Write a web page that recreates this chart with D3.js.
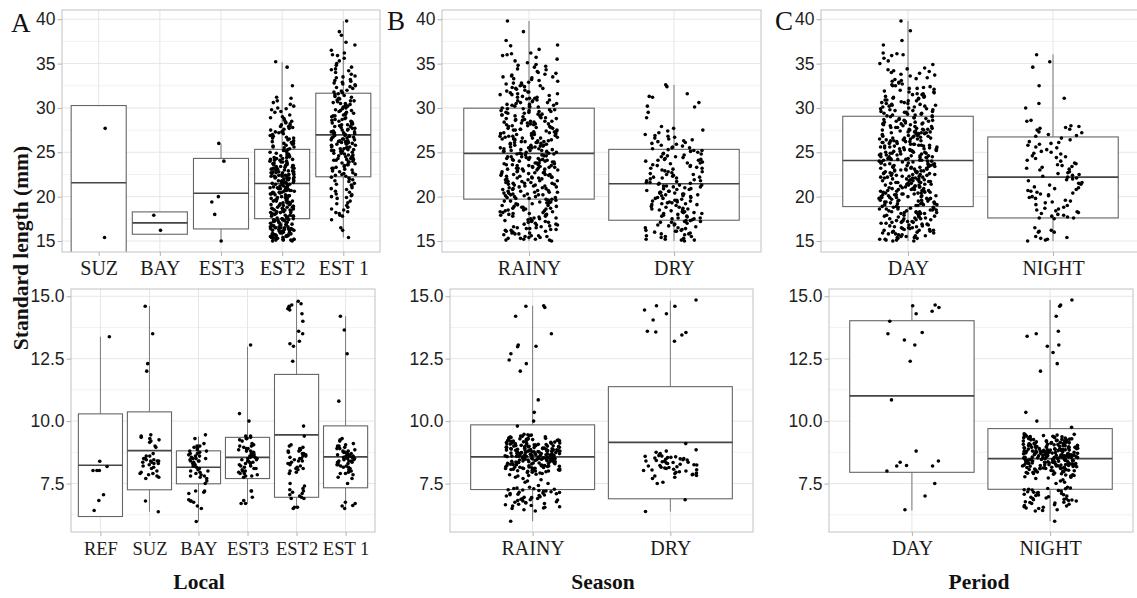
<!DOCTYPE html>
<html>
<head>
<meta charset="utf-8">
<script src="https://cdn.jsdelivr.net/npm/d3@7"></script>
<style>
  body { margin: 0; background: #fff; }
  svg { display: block; }
</style>
</head>
<body>
<svg id="chart" width="1137" height="598"></svg>
<script>
// ---------- categories ----------
const topLocalCategories = ["SUZ", "BAY", "EST3", "EST2", "EST 1"];
const lowLocalCategories = ["REF", "SUZ", "BAY", "EST3", "EST2", "EST 1"];
const seasonCategories = ["RAINY", "DRY"];
const periodCategories = ["DAY", "NIGHT"];

// ---------- tick values ----------
const topTicks = [15, 20, 25, 30, 35, 40];
const lowTicks = [7.5, 10, 12.5, 15];

// ---------- box statistics (standard length, mm) ----------
const topLocalLower  = [12.85, 15.76, 15.0, 15.0, 15.4];
const topLocalQ1     = [12.85, 15.76, 16.36, 17.52, 22.24];
const topLocalMedian = [21.56, 17.04, 20.39, 21.48, 26.96];
const topLocalQ3     = [30.27, 18.28, 24.31, 25.33, 31.66];
const topLocalUpper  = [30.27, 18.28, 25.97, 35.17, 39.8];

const topSeasonLower  = [15.0, 15.0];
const topSeasonQ1     = [19.72, 17.34];
const topSeasonMedian = [24.88, 21.45];
const topSeasonQ3     = [29.97, 25.33];
const topSeasonUpper  = [39.8, 32.6];

const topPeriodLower  = [15.0, 15.0];
const topPeriodQ1     = [18.88, 17.6];
const topPeriodMedian = [24.08, 22.2];
const topPeriodQ3     = [29.06, 26.73];
const topPeriodUpper  = [39.8, 36.04];

const lowLocalLower  = [6.18, 6.37, 5.98, 6.69, 6.5, 6.5];
const lowLocalQ1     = [6.18, 7.25, 7.49, 7.7, 6.95, 7.33];
const lowLocalMedian = [8.23, 8.82, 8.15, 8.55, 9.45, 8.57];
const lowLocalQ3     = [10.29, 10.37, 8.81, 9.35, 11.87, 9.81];
const lowLocalUpper  = [13.38, 14.61, 9.39, 12.98, 14.78, 14.2];

const lowSeasonLower  = [5.99, 6.38];
const lowSeasonQ1     = [7.26, 6.89];
const lowSeasonMedian = [8.57, 9.15];
const lowSeasonQ3     = [9.85, 11.38];
const lowSeasonUpper  = [14.62, 14.82];

const lowPeriodLower  = [6.42, 5.99];
const lowPeriodQ1     = [7.95, 7.27];
const lowPeriodMedian = [11.01, 8.5];
const lowPeriodQ3     = [14.02, 9.7];
const lowPeriodUpper  = [14.62, 14.85];

// ---------- individual fish, larger than 15 mm ----------
const topSUZ = [27.7, 15.4];
const topBAY = [17.9, 16.2];
const topEST3 = [26.0, 24.0, 19.4, 20.0, 18.0, 15.0];
const topEST2 = [
15.0,15.0,15.1,15.1,15.2,15.2,15.2,15.3,15.3,15.4,15.4,15.4,15.5,15.5,15.6,15.6,15.6,15.7,15.7,15.8,15.8,15.8,15.9,15.9,15.1,15.3,15.5,15.7,
16.0,16.0,16.1,16.1,16.2,16.2,16.3,16.3,16.3,16.4,16.4,16.5,16.5,16.5,16.6,16.6,16.7,16.7,16.8,16.8,16.9,16.9,16.0,16.2,16.4,16.6,16.8,16.5,
17.0,17.1,17.1,17.2,17.3,17.3,17.4,17.4,17.5,17.5,17.6,17.6,17.7,17.7,17.8,17.8,17.9,17.9,17.0,17.2,17.5,17.6,17.3,17.8,17.1,17.4,
18.0,18.1,18.2,18.2,18.3,18.4,18.4,18.5,18.5,18.6,18.7,18.7,18.8,18.8,18.9,18.9,18.0,18.3,18.6,18.1,18.5,18.8,18.2,18.6,
19.0,19.1,19.2,19.3,19.3,19.4,19.5,19.5,19.6,19.7,19.7,19.8,19.9,19.9,19.0,19.2,19.4,19.6,19.8,19.1,19.5,19.3,
20.0,20.1,20.1,20.2,20.3,20.4,20.4,20.5,20.5,20.6,20.7,20.7,20.8,20.9,20.9,20.0,20.2,20.3,20.6,20.8,20.5,20.1,20.4,20.7,
21.0,21.0,21.1,21.2,21.2,21.3,21.4,21.4,21.5,21.5,21.6,21.6,21.7,21.8,21.8,21.9,21.9,21.1,21.3,21.5,21.7,21.0,21.2,21.6,21.4,21.8,
22.0,22.1,22.1,22.2,22.3,22.3,22.4,22.4,22.5,22.5,22.6,22.7,22.7,22.8,22.8,22.9,22.9,22.0,22.2,22.6,22.3,22.5,22.1,22.4,22.7,22.8,
23.0,23.1,23.2,23.3,23.3,23.4,23.5,23.5,23.6,23.7,23.7,23.8,23.9,23.9,23.0,23.2,23.4,23.6,23.1,23.5,23.3,23.8,
24.0,24.1,24.2,24.3,24.4,24.5,24.5,24.6,24.7,24.8,24.9,24.0,24.3,24.6,24.2,24.8,24.4,24.1,
25.0,25.2,25.3,25.5,25.6,25.8,25.9,25.1,25.4,25.7,25.2,25.6,
26.0,26.1,26.3,26.4,26.6,26.7,26.9,26.2,26.5,26.8,26.0,26.6,
27.0,27.2,27.3,27.5,27.6,27.8,27.9,27.1,27.4,27.7,27.3,27.9,
28.0,28.2,28.4,28.6,28.8,28.1,28.5,28.9,28.3,
29.0,29.2,29.5,29.6,29.8,29.9,
30.0,30.2,30.4,30.6,30.8,31.1,31.2,32.5,34.6,35.2
];
const topEST1 = [
15.4,16.2,16.5,17.4,17.8,17.9,
18.1,18.2,18.3,18.5,18.6,18.8,
19.0,19.2,19.3,19.5,19.8,19.9,
20.0,20.1,20.2,20.3,20.5,20.6,20.8,20.9,
21.0,21.2,21.3,21.4,21.5,21.7,21.8,21.9,
22.0,22.1,22.2,22.3,22.4,22.5,22.5,22.6,22.7,22.8,22.9,
23.0,23.1,23.2,23.2,23.3,23.4,23.5,23.6,23.6,23.7,23.8,23.9,23.9,
24.0,24.1,24.1,24.2,24.2,24.3,24.3,24.4,24.5,24.5,24.6,24.7,24.7,24.8,24.9,24.9,
25.0,25.1,25.1,25.2,25.2,25.3,25.3,25.4,25.4,25.5,25.5,25.6,25.6,25.7,25.8,25.8,25.9,25.9,
26.0,26.0,26.1,26.1,26.2,26.2,26.3,26.3,26.4,26.4,26.5,26.5,26.6,26.6,26.7,26.7,26.8,26.8,26.9,26.9,
27.0,27.1,27.1,27.2,27.2,27.3,27.3,27.4,27.5,27.5,27.6,27.7,27.7,27.8,27.9,27.9,
28.0,28.1,28.1,28.2,28.2,28.3,28.4,28.5,28.5,28.6,28.7,28.7,28.8,28.9,
29.0,29.1,29.1,29.2,29.3,29.3,29.4,29.5,29.6,29.7,29.7,29.8,29.9,
30.0,30.1,30.2,30.2,30.3,30.4,30.5,30.5,30.6,30.7,30.8,30.8,30.9,
31.0,31.1,31.2,31.3,31.4,31.5,31.6,31.7,31.8,31.9,
32.0,32.2,32.3,32.4,32.5,32.6,32.7,32.8,32.9,
33.0,33.1,33.2,33.4,33.5,33.6,33.8,
34.0,34.2,34.3,34.4,34.6,34.8,
35.0,35.3,35.6,35.9,36.0,36.2,36.5,37.1,37.4,38.2,38.6,39.8
];
const topRAINY = [
15.0,15.1,15.2,15.3,15.4,15.5,15.6,15.7,15.8,15.9,15.5,15.2,15.8,15.1,15.6,15.3,15.9,15.4,
16.0,16.1,16.2,16.3,16.4,16.5,16.6,16.7,16.8,16.9,16.5,16.2,16.8,16.1,16.6,16.3,16.9,16.4,
17.0,17.1,17.2,17.3,17.4,17.5,17.6,17.7,17.8,17.9,17.5,17.2,17.8,17.1,17.6,17.3,17.9,
18.0,18.1,18.2,18.3,18.4,18.5,18.6,18.7,18.8,18.9,18.0,18.1,18.2,18.3,18.4,18.5,18.6,18.7,18.8,18.9,
19.0,19.1,19.2,19.3,19.4,19.5,19.6,19.7,19.8,19.9,19.0,19.1,19.2,19.3,19.4,19.5,19.6,19.7,19.8,19.9,
20.0,20.1,20.2,20.3,20.4,20.5,20.6,20.7,20.8,20.9,20.0,20.1,20.2,20.3,20.4,20.5,20.6,20.7,20.8,20.9,20.5,20.2,
21.0,21.1,21.2,21.3,21.4,21.5,21.6,21.7,21.8,21.9,21.0,21.1,21.2,21.3,21.4,21.5,21.6,21.7,21.8,21.9,21.5,21.2,
22.0,22.1,22.2,22.3,22.4,22.5,22.6,22.7,22.8,22.9,22.0,22.1,22.2,22.3,22.4,22.5,22.6,22.7,22.8,22.9,22.5,22.2,22.8,22.1,
23.0,23.1,23.2,23.3,23.4,23.5,23.6,23.7,23.8,23.9,23.0,23.1,23.2,23.3,23.4,23.5,23.6,23.7,23.8,23.9,23.5,23.2,23.8,23.1,23.6,23.3,
24.0,24.1,24.2,24.3,24.4,24.5,24.6,24.7,24.8,24.9,24.0,24.1,24.2,24.3,24.4,24.5,24.6,24.7,24.8,24.9,24.5,24.2,24.8,24.1,
25.0,25.1,25.2,25.3,25.4,25.5,25.6,25.7,25.8,25.9,25.0,25.1,25.2,25.3,25.4,25.5,25.6,25.7,25.8,25.9,25.5,25.2,25.8,25.1,25.6,
26.0,26.1,26.2,26.3,26.4,26.5,26.6,26.7,26.8,26.9,26.0,26.1,26.2,26.3,26.4,26.5,26.6,26.7,26.8,26.9,26.5,26.2,26.8,26.1,26.6,
27.0,27.1,27.2,27.3,27.4,27.5,27.6,27.7,27.8,27.9,27.0,27.1,27.2,27.3,27.4,27.5,27.6,27.7,27.8,27.9,27.5,27.2,27.8,27.1,
28.0,28.1,28.2,28.3,28.4,28.5,28.6,28.7,28.8,28.9,28.0,28.1,28.2,28.3,28.4,28.5,28.6,28.7,28.8,28.9,28.5,28.2,
29.0,29.1,29.2,29.3,29.4,29.5,29.6,29.7,29.8,29.9,29.0,29.1,29.2,29.3,29.4,29.5,29.6,29.7,29.8,29.9,
30.0,30.1,30.2,30.3,30.4,30.5,30.6,30.7,30.8,30.9,30.5,30.2,30.8,30.1,30.6,30.3,30.9,30.4,
31.0,31.1,31.2,31.3,31.4,31.5,31.6,31.7,31.8,31.9,31.5,31.2,31.8,31.1,31.6,
32.0,32.1,32.2,32.3,32.4,32.5,32.6,32.7,32.8,32.9,32.5,32.2,32.8,
33.0,33.1,33.2,33.3,33.4,33.5,33.6,33.7,33.8,33.9,33.5,
34.0,34.1,34.3,34.4,34.6,34.7,34.8,34.9,
35.1,35.3,35.5,35.7,35.9,36.0,36.1,36.2,36.6,37.0,37.1,37.6,38.6,39.8
];
const topDRY = [
15.0,15.1,15.2,15.3,15.4,15.5,15.6,15.7,15.8,15.9,15.5,15.2,15.8,15.1,
16.0,16.1,16.2,16.3,16.4,16.5,16.6,16.7,16.8,16.9,16.5,16.2,16.8,16.1,
17.0,17.1,17.2,17.3,17.4,17.5,17.6,17.7,17.8,17.9,17.5,17.2,17.8,17.1,17.6,17.3,
18.0,18.1,18.2,18.3,18.4,18.5,18.6,18.7,18.8,18.9,18.5,18.2,18.8,18.1,18.6,18.3,
19.0,19.1,19.2,19.3,19.4,19.5,19.6,19.7,19.8,19.9,19.5,19.2,19.8,19.1,19.6,19.3,19.9,19.4,
20.0,20.1,20.2,20.3,20.4,20.5,20.6,20.7,20.8,20.9,20.5,20.2,20.8,20.1,20.6,20.3,20.9,20.4,
21.0,21.1,21.2,21.3,21.4,21.5,21.6,21.7,21.8,21.9,21.5,21.2,21.8,21.1,21.6,21.3,
22.0,22.1,22.2,22.3,22.4,22.5,22.6,22.7,22.8,22.9,22.5,22.2,22.8,22.1,
23.0,23.1,23.2,23.3,23.4,23.5,23.6,23.7,23.8,23.9,23.5,23.2,23.8,
24.0,24.1,24.2,24.3,24.4,24.5,24.6,24.7,24.8,24.9,24.5,24.2,24.8,24.1,
25.0,25.1,25.2,25.3,25.4,25.5,25.6,25.7,25.8,25.9,25.5,25.2,
26.0,26.1,26.2,26.3,26.4,26.5,26.6,26.7,26.8,26.9,
27.0,27.2,27.4,27.5,27.7,27.9,
28.9,29.5,30.1,30.2,30.6,31.2,31.3,31.6,32.4,32.6
];
const topDAY = [
15.0,15.1,15.2,15.3,15.4,15.5,15.6,15.7,15.8,15.9,15.0,15.1,15.2,15.3,15.4,15.5,15.6,15.7,15.8,15.9,
16.0,16.1,16.2,16.3,16.4,16.5,16.6,16.7,16.8,16.9,16.0,16.1,16.2,16.3,16.4,16.5,16.6,16.7,16.8,16.9,16.5,16.2,
17.0,17.1,17.2,17.3,17.4,17.5,17.6,17.7,17.8,17.9,17.0,17.1,17.2,17.3,17.4,17.5,17.6,17.7,17.8,17.9,17.5,17.2,17.8,17.1,
18.0,18.1,18.2,18.3,18.4,18.5,18.6,18.7,18.8,18.9,18.0,18.1,18.2,18.3,18.4,18.5,18.6,18.7,18.8,18.9,18.5,18.2,18.8,18.1,18.6,18.3,
19.0,19.1,19.2,19.3,19.4,19.5,19.6,19.7,19.8,19.9,19.0,19.1,19.2,19.3,19.4,19.5,19.6,19.7,19.8,19.9,19.5,19.2,19.8,19.1,19.6,19.3,19.9,19.4,
20.0,20.1,20.2,20.3,20.4,20.5,20.6,20.7,20.8,20.9,20.0,20.1,20.2,20.3,20.4,20.5,20.6,20.7,20.8,20.9,20.0,20.1,20.2,20.3,20.4,20.5,20.6,20.7,20.8,20.9,
21.0,21.1,21.2,21.3,21.4,21.5,21.6,21.7,21.8,21.9,21.0,21.1,21.2,21.3,21.4,21.5,21.6,21.7,21.8,21.9,21.0,21.1,21.2,21.3,21.4,21.5,21.6,21.7,21.8,21.9,
22.0,22.1,22.2,22.3,22.4,22.5,22.6,22.7,22.8,22.9,22.0,22.1,22.2,22.3,22.4,22.5,22.6,22.7,22.8,22.9,22.0,22.1,22.2,22.3,22.4,22.5,22.6,22.7,22.8,22.9,
23.0,23.1,23.2,23.3,23.4,23.5,23.6,23.7,23.8,23.9,23.0,23.1,23.2,23.3,23.4,23.5,23.6,23.7,23.8,23.9,23.0,23.1,23.2,23.3,23.4,23.5,23.6,23.7,23.8,23.9,
24.0,24.1,24.2,24.3,24.4,24.5,24.6,24.7,24.8,24.9,24.0,24.1,24.2,24.3,24.4,24.5,24.6,24.7,24.8,24.9,24.0,24.1,24.2,24.3,24.4,24.5,24.6,24.7,24.8,24.9,
25.0,25.1,25.2,25.3,25.4,25.5,25.6,25.7,25.8,25.9,25.0,25.1,25.2,25.3,25.4,25.5,25.6,25.7,25.8,25.9,25.0,25.1,25.2,25.3,25.4,25.5,25.6,25.7,25.8,25.9,
26.0,26.1,26.2,26.3,26.4,26.5,26.6,26.7,26.8,26.9,26.0,26.1,26.2,26.3,26.4,26.5,26.6,26.7,26.8,26.9,26.5,26.2,26.8,26.1,26.6,26.3,26.9,26.4,
27.0,27.1,27.2,27.3,27.4,27.5,27.6,27.7,27.8,27.9,27.0,27.1,27.2,27.3,27.4,27.5,27.6,27.7,27.8,27.9,27.5,27.2,27.8,27.1,27.6,27.3,
28.0,28.1,28.2,28.3,28.4,28.5,28.6,28.7,28.8,28.9,28.0,28.1,28.2,28.3,28.4,28.5,28.6,28.7,28.8,28.9,28.5,28.2,
29.0,29.1,29.2,29.3,29.4,29.5,29.6,29.7,29.8,29.9,29.0,29.1,29.2,29.3,29.4,29.5,29.6,29.7,29.8,29.9,
30.0,30.1,30.2,30.3,30.4,30.5,30.6,30.7,30.8,30.9,30.5,30.2,30.8,30.1,30.6,30.3,30.9,30.4,
31.0,31.1,31.2,31.3,31.4,31.5,31.6,31.7,31.8,31.9,31.5,31.2,31.8,31.1,31.6,31.3,
32.0,32.1,32.2,32.3,32.4,32.5,32.6,32.7,32.8,32.9,32.5,32.2,
33.0,33.1,33.2,33.3,33.4,33.6,33.7,33.8,33.9,
34.0,34.1,34.2,34.3,34.4,34.5,34.9,
35.0,35.3,35.6,35.9,36.0,36.1,36.2,37.1,37.6,38.7,39.8
];
const topNIGHT = [
15.0,15.1,15.2,15.3,15.4,15.5,
16.0,16.1,16.2,16.5,16.0,
17.5,17.6,17.7,17.8,17.9,17.6,
18.0,18.1,18.2,18.3,18.4,18.5,18.6,18.7,18.8,
19.0,19.1,19.3,19.4,19.5,19.6,19.8,19.9,
20.0,20.1,20.2,20.3,20.4,20.5,20.6,20.7,20.8,20.9,
21.0,21.1,21.3,21.4,21.5,21.6,21.8,21.9,
22.0,22.1,22.2,22.3,22.4,22.5,22.6,22.7,22.8,
23.0,23.1,23.2,23.3,23.4,23.5,23.6,23.7,23.8,
24.0,24.1,24.3,24.4,24.5,24.6,24.8,24.9,
25.0,25.1,25.3,25.5,25.6,25.8,25.9,
26.0,26.1,26.2,26.4,26.6,26.8,26.9,
27.0,27.2,27.3,27.5,27.6,27.7,27.8,27.9,
28.0,28.5,28.6,30.0,30.5,31.1,32.5,34.6,35.2,36.0
];

// ---------- individual fish, smaller than 15 mm ----------
const lowREF = [13.38, 8.39, 8.18, 8.02, 8.02, 8.02, 7.05, 6.82, 6.42];
const lowSUZ = [14.6,13.5,12.3,12.0,9.45,9.4,9.35,9.3,9.25,9.2,9.15,9.0,8.95,8.7,8.6,8.5,8.45,8.4,8.4,8.35,8.3,8.3,8.25,8.2,8.15,8.1,8.0,7.95,7.9,7.9,7.85,7.8,7.75,7.7,8.5,8.4,8.6,8.35,8.45,6.8,6.37];
const lowBAY = [9.45,9.3,9.1,9.0,9.0,8.95,8.9,8.85,8.8,8.8,8.75,8.7,8.7,8.65,8.6,8.6,8.55,8.5,8.5,8.5,8.45,8.4,8.4,8.4,8.35,8.3,8.3,8.25,8.2,8.2,8.15,8.1,8.05,8.0,8.0,7.95,7.9,7.85,7.8,7.8,7.75,7.7,7.6,7.5,7.2,7.2,7.15,7.1,6.85,6.8,6.8,6.75,6.6,6.5,5.98];
const lowEST3 = [13.05,10.3,10.0,9.4,9.4,9.35,9.3,9.3,9.25,9.2,9.1,9.05,9.0,9.0,8.95,8.9,8.9,8.85,8.8,8.8,8.75,8.7,8.7,8.65,8.65,8.6,8.6,8.55,8.55,8.5,8.5,8.45,8.45,8.4,8.4,8.35,8.35,8.3,8.3,8.25,8.2,8.2,8.15,8.1,8.1,8.05,8.0,8.0,7.95,7.9,7.9,7.85,7.8,7.8,7.75,7.2,7.2,6.95,6.82,6.7,6.7];
const lowEST2 = [14.8,14.7,14.65,14.6,14.55,14.5,14.45,14.3,14.0,13.6,13.5,13.2,13.1,13.0,12.4,9.8,9.4,9.05,9.0,8.95,8.9,8.85,8.8,8.8,8.75,8.7,8.7,8.65,8.6,8.6,8.55,8.5,8.5,8.45,8.4,8.4,8.35,8.3,8.3,8.25,8.2,8.15,8.1,8.1,8.05,8.0,7.95,7.9,7.5,7.4,7.3,7.25,7.2,7.15,7.1,7.05,7.0,6.95,6.9,6.9,6.55,6.55,6.5];
const lowEST1 = [14.2,13.65,12.7,10.8,9.3,9.25,9.2,9.1,9.05,9.0,9.0,8.95,8.9,8.9,8.85,8.8,8.8,8.75,8.75,8.7,8.7,8.65,8.65,8.6,8.6,8.6,8.55,8.55,8.5,8.5,8.5,8.45,8.45,8.4,8.4,8.4,8.35,8.35,8.3,8.3,8.25,8.25,8.2,8.2,8.15,8.15,8.1,8.05,8.0,8.0,7.95,7.9,7.9,7.85,7.75,7.7,7.5,6.62,6.6,6.75,6.7,6.5];
const lowRAINY = [
14.6,14.55,14.62,14.2,13.5,13.05,13.0,12.98,12.7,12.45,12.3,12.0,10.85,10.35,10.0,9.8,
9.40,9.45,9.42,9.47,9.44,
9.30,9.35,9.32,9.37,9.34,9.39,9.31,9.36,
9.20,9.25,9.22,9.27,9.24,9.29,9.21,9.26,9.23,9.28,
9.10,9.15,9.12,9.17,9.14,9.19,9.11,9.16,9.13,9.18,9.10,
9.00,9.05,9.02,9.07,9.04,9.09,9.01,9.06,9.03,9.08,9.00,9.05,9.02,
8.90,8.95,8.92,8.97,8.94,8.99,8.91,8.96,8.93,8.98,8.90,8.95,8.92,8.97,
8.80,8.85,8.82,8.87,8.84,8.89,8.81,8.86,8.83,8.88,8.80,8.85,8.82,8.87,8.84,
8.70,8.75,8.72,8.77,8.74,8.79,8.71,8.76,8.73,8.78,8.70,8.75,8.72,8.77,8.74,8.79,
8.60,8.65,8.62,8.67,8.64,8.69,8.61,8.66,8.63,8.68,8.60,8.65,8.62,8.67,8.64,8.69,8.61,
8.50,8.55,8.52,8.57,8.54,8.59,8.51,8.56,8.53,8.58,8.50,8.55,8.52,8.57,8.54,8.59,8.51,
8.40,8.45,8.42,8.47,8.44,8.49,8.41,8.46,8.43,8.48,8.40,8.45,8.42,8.47,8.44,8.49,
8.30,8.35,8.32,8.37,8.34,8.39,8.31,8.36,8.33,8.38,8.30,8.35,8.32,8.37,8.34,
8.20,8.25,8.22,8.27,8.24,8.29,8.21,8.26,8.23,8.28,8.20,8.25,8.22,
8.10,8.15,8.12,8.17,8.14,8.19,8.11,8.16,8.13,8.18,8.10,8.15,
8.00,8.05,8.02,8.07,8.04,8.09,8.01,8.06,8.03,8.08,8.00,
7.90,7.95,7.92,7.97,7.94,7.99,7.80,7.85,7.82,7.87,7.70,7.75,7.60,7.65,
7.55,7.50,7.42,7.30,7.35,7.32,7.20,7.25,7.22,7.27,7.24,7.29,7.10,7.15,7.12,7.17,7.14,7.19,
7.00,7.05,7.02,7.07,7.04,7.09,6.90,6.95,6.92,6.97,6.94,6.80,6.85,6.82,6.87,6.84,6.89,
6.70,6.75,6.72,6.77,6.74,6.60,6.65,6.62,6.67,6.50,6.55,6.52,6.57,6.40,6.45,5.99
];
const lowDRY = [
14.85,14.6,14.62,14.45,14.3,14.05,13.6,13.55,13.57,13.45,13.2,
9.1,8.8,8.85,8.7,8.75,8.6,8.65,8.62,8.5,8.55,8.52,8.57,8.54,8.59,
8.4,8.45,8.42,8.47,8.44,8.49,8.3,8.35,8.32,8.37,8.34,8.39,
8.2,8.25,8.22,8.27,8.24,8.1,8.15,8.12,8.17,8.14,8.0,8.05,8.02,8.07,8.04,
7.9,7.95,7.92,7.97,7.8,7.85,7.82,7.87,7.7,7.75,7.5,7.55,6.85,6.38
];
const lowDAY = [14.55,14.3,14.62,14.65,14.4,14.0,13.55,13.25,13.05,13.5,12.4,10.85,8.8,8.4,8.35,8.2,8.2,8.22,8.0,7.5,7.0,6.45];
const lowNIGHT = [
14.85,14.6,14.65,14.2,13.6,13.5,13.4,13.0,13.05,12.75,12.3,12.0,10.35,10.0,9.75,
9.40,9.45,9.42,9.47,9.44,9.49,9.41,
9.30,9.35,9.32,9.37,9.34,9.39,9.31,9.36,9.33,9.38,
9.20,9.25,9.22,9.27,9.24,9.29,9.21,9.26,9.23,9.28,9.20,
9.10,9.15,9.12,9.17,9.14,9.19,9.11,9.16,9.13,9.18,9.10,9.15,
9.00,9.05,9.02,9.07,9.04,9.09,9.01,9.06,9.03,9.08,9.00,9.05,9.02,9.07,
8.90,8.95,8.92,8.97,8.94,8.99,8.91,8.96,8.93,8.98,8.90,8.95,8.92,8.97,8.94,
8.80,8.85,8.82,8.87,8.84,8.89,8.81,8.86,8.83,8.88,8.80,8.85,8.82,8.87,8.84,8.89,8.81,
8.70,8.75,8.72,8.77,8.74,8.79,8.71,8.76,8.73,8.78,8.70,8.75,8.72,8.77,8.74,8.79,8.71,8.76,
8.60,8.65,8.62,8.67,8.64,8.69,8.61,8.66,8.63,8.68,8.60,8.65,8.62,8.67,8.64,8.69,8.61,8.66,8.63,
8.50,8.55,8.52,8.57,8.54,8.59,8.51,8.56,8.53,8.58,8.50,8.55,8.52,8.57,8.54,8.59,8.51,8.56,8.53,
8.40,8.45,8.42,8.47,8.44,8.49,8.41,8.46,8.43,8.48,8.40,8.45,8.42,8.47,8.44,8.49,8.41,8.46,
8.30,8.35,8.32,8.37,8.34,8.39,8.31,8.36,8.33,8.38,8.30,8.35,8.32,8.37,8.34,8.39,8.31,
8.20,8.25,8.22,8.27,8.24,8.29,8.21,8.26,8.23,8.28,8.20,8.25,8.22,8.27,8.24,
8.10,8.15,8.12,8.17,8.14,8.19,8.11,8.16,8.13,8.18,8.10,8.15,8.12,
8.00,8.05,8.02,8.07,8.04,8.09,8.01,8.06,8.03,8.08,8.00,
7.90,7.95,7.92,7.97,7.94,7.99,7.91,7.96,
7.80,7.85,7.82,7.87,7.84,7.89,7.70,7.75,7.72,7.77,7.60,7.65,7.50,7.55,
7.30,7.35,7.32,7.20,7.25,7.22,7.27,7.24,7.29,7.10,7.15,7.12,7.17,7.14,
7.00,7.05,7.02,7.07,7.04,6.90,6.95,6.92,6.97,6.80,6.85,6.82,6.87,6.84,6.89,
6.70,6.75,6.72,6.77,6.74,6.60,6.65,6.62,6.67,6.50,6.55,6.52,6.57,6.40,6.45,6.42,5.99
];

// ---------- layout ----------
const rows = {
  top: { y0: 10, y1: 252, domain: [13.76, 41.04], ticks: topTicks, fmt: d3.format("d") },
  low: { y0: 289, y1: 532, domain: [5.56, 15.29], ticks: lowTicks, fmt: d3.format(".1f") }
};

const panels = [
  { row: "top", x0: 62, x1: 380, cats: topLocalCategories, groups: [topSUZ, topBAY, topEST3, topEST2, topEST1],
    lo: topLocalLower, q1: topLocalQ1, med: topLocalMedian, q3: topLocalQ3, hi: topLocalUpper, labelSize: 20 },
  { row: "top", x0: 442, x1: 761, cats: seasonCategories, groups: [topRAINY, topDRY],
    lo: topSeasonLower, q1: topSeasonQ1, med: topSeasonMedian, q3: topSeasonQ3, hi: topSeasonUpper, labelSize: 20 },
  { row: "top", x0: 821, x1: 1140, cats: periodCategories, groups: [topDAY, topNIGHT],
    lo: topPeriodLower, q1: topPeriodQ1, med: topPeriodMedian, q3: topPeriodQ3, hi: topPeriodUpper, labelSize: 20 },
  { row: "low", x0: 71, x1: 375, cats: lowLocalCategories, groups: [lowREF, lowSUZ, lowBAY, lowEST3, lowEST2, lowEST1],
    lo: lowLocalLower, q1: lowLocalQ1, med: lowLocalMedian, q3: lowLocalQ3, hi: lowLocalUpper, labelSize: 18.5 },
  { row: "low", x0: 450, x1: 753, cats: seasonCategories, groups: [lowRAINY, lowDRY],
    lo: lowSeasonLower, q1: lowSeasonQ1, med: lowSeasonMedian, q3: lowSeasonQ3, hi: lowSeasonUpper, labelSize: 20 },
  { row: "low", x0: 829, x1: 1133, cats: periodCategories, groups: [lowDAY, lowNIGHT],
    lo: lowPeriodLower, q1: lowPeriodQ1, med: lowPeriodMedian, q3: lowPeriodQ3, hi: lowPeriodUpper, labelSize: 20 }
];

const SANS = "'Liberation Sans', Arial, sans-serif";
const SERIF = "'Liberation Serif', 'Times New Roman', serif";

const svg = d3.select("#chart");
const defs = svg.append("defs");

// deterministic horizontal spread for the jittered points, in [-1, 1]
function jitterOffset(i, salt) {
  const s = Math.sin(i * 127.1 + salt * 311.7 + 0.37) * 43758.5453;
  return (s - Math.floor(s)) * 2 - 1;
}

function minorTicks(ticks, domain) {
  const half = (ticks[1] - ticks[0]) / 2;
  const m = [ticks[0] - half, ...d3.pairs(ticks).map(([a, b]) => (a + b) / 2), ticks[ticks.length - 1] + half];
  return m.filter(v => v > domain[0] && v < domain[1]);
}

panels.forEach((p, pi) => {
  const r = rows[p.row];
  const x = d3.scalePoint().domain(p.cats).range([p.x0, p.x1]).padding(0.6);
  const y = d3.scaleLinear().domain(r.domain).range([r.y1, r.y0]);
  const step = x.step();
  const g = svg.append("g");

  const clipId = "panel-clip-" + pi;
  defs.append("clipPath").attr("id", clipId)
    .append("rect").attr("x", p.x0).attr("y", r.y0)
    .attr("width", p.x1 - p.x0).attr("height", r.y1 - r.y0);
  const body = g.append("g").attr("clip-path", `url(#${clipId})`);

  // grid
  body.selectAll("line.minor").data(minorTicks(r.ticks, r.domain)).join("line")
    .attr("x1", p.x0).attr("x2", p.x1)
    .attr("y1", d => y(d)).attr("y2", d => y(d))
    .attr("stroke", "#f2f2f2").attr("stroke-width", 1);
  body.selectAll("line.major").data(r.ticks).join("line")
    .attr("x1", p.x0).attr("x2", p.x1)
    .attr("y1", d => y(d)).attr("y2", d => y(d))
    .attr("stroke", "#e6e6e6").attr("stroke-width", 1);
  body.selectAll("line.vmajor").data(p.cats).join("line")
    .attr("x1", d => x(d)).attr("x2", d => x(d))
    .attr("y1", r.y0).attr("y2", r.y1)
    .attr("stroke", "#e6e6e6").attr("stroke-width", 1);

  // boxes and whiskers
  const bw = step * 0.9;
  p.cats.forEach((c, i) => {
    const cx = x(c);
    body.append("line").attr("x1", cx).attr("x2", cx)
      .attr("y1", y(p.hi[i])).attr("y2", y(p.q3[i]))
      .attr("stroke", "#7a7a7a").attr("stroke-width", 1);
    body.append("line").attr("x1", cx).attr("x2", cx)
      .attr("y1", y(p.q1[i])).attr("y2", y(p.lo[i]))
      .attr("stroke", "#7a7a7a").attr("stroke-width", 1);
    body.append("rect")
      .attr("x", cx - bw / 2).attr("y", y(p.q3[i]))
      .attr("width", bw).attr("height", y(p.q1[i]) - y(p.q3[i]))
      .attr("fill", "#fff").attr("stroke", "#666").attr("stroke-width", 1.1);
    body.append("line")
      .attr("x1", cx - bw / 2).attr("x2", cx + bw / 2)
      .attr("y1", y(p.med[i])).attr("y2", y(p.med[i]))
      .attr("stroke", "#454545").attr("stroke-width", 1.6);
  });

  // jittered fish
  p.groups.forEach((vals, i) => {
    const cx = x(p.cats[i]);
    body.append("g").selectAll("circle").data(vals).join("circle")
      .attr("cx", (d, j) => cx + jitterOffset(j, pi * 10 + i) * 0.2 * step)
      .attr("cy", d => y(d))
      .attr("r", 1.8)
      .attr("fill", "#000");
  });

  // panel border
  g.append("rect")
    .attr("x", p.x0).attr("y", r.y0)
    .attr("width", p.x1 - p.x0).attr("height", r.y1 - r.y0)
    .attr("fill", "none").attr("stroke", "#c2c2c2").attr("stroke-width", 1);

  // y axis
  const yAxis = g.append("g").attr("transform", `translate(${p.x0},0)`)
    .call(d3.axisLeft(y).tickValues(r.ticks).tickFormat(r.fmt).tickSize(4.5).tickPadding(2));
  yAxis.select(".domain").remove();
  yAxis.selectAll(".tick line").attr("stroke", "#b3b3b3");
  yAxis.selectAll(".tick text")
    .attr("font-family", SANS).attr("font-size", 17.5).attr("fill", "#1e1e1e");

  // x axis
  const xAxis = g.append("g").attr("transform", `translate(0,${r.y1})`)
    .call(d3.axisBottom(x).tickSize(4).tickPadding(3));
  xAxis.select(".domain").remove();
  xAxis.selectAll(".tick line").attr("stroke", "#b3b3b3");
  xAxis.selectAll(".tick text")
    .attr("y", 23).attr("dy", 0)
    .attr("font-family", SERIF).attr("font-size", p.labelSize).attr("fill", "#1a1a1a");
});

// panel letters
const letters = [["A", 11, 32], ["B", 387, 30], ["C", 775, 30]];
svg.selectAll("text.letter").data(letters).join("text")
  .attr("x", d => d[1]).attr("y", d => d[2])
  .attr("font-family", SERIF).attr("font-size", 27).attr("fill", "#111")
  .text(d => d[0]);

// axis titles
svg.append("text")
  .attr("transform", "translate(28,248) rotate(-90)")
  .attr("text-anchor", "middle")
  .attr("font-family", SERIF).attr("font-weight", "bold").attr("font-size", 21.5).attr("fill", "#111")
  .text("Standard length (mm)");

const xTitles = [["Local", 199], ["Season", 603], ["Period", 979]];
svg.selectAll("text.xtitle").data(xTitles).join("text")
  .attr("x", d => d[1]).attr("y", 589)
  .attr("text-anchor", "middle")
  .attr("font-family", SERIF).attr("font-weight", "bold").attr("font-size", 21.5).attr("fill", "#111")
  .text(d => d[0]);
</script>
</body>
</html>
